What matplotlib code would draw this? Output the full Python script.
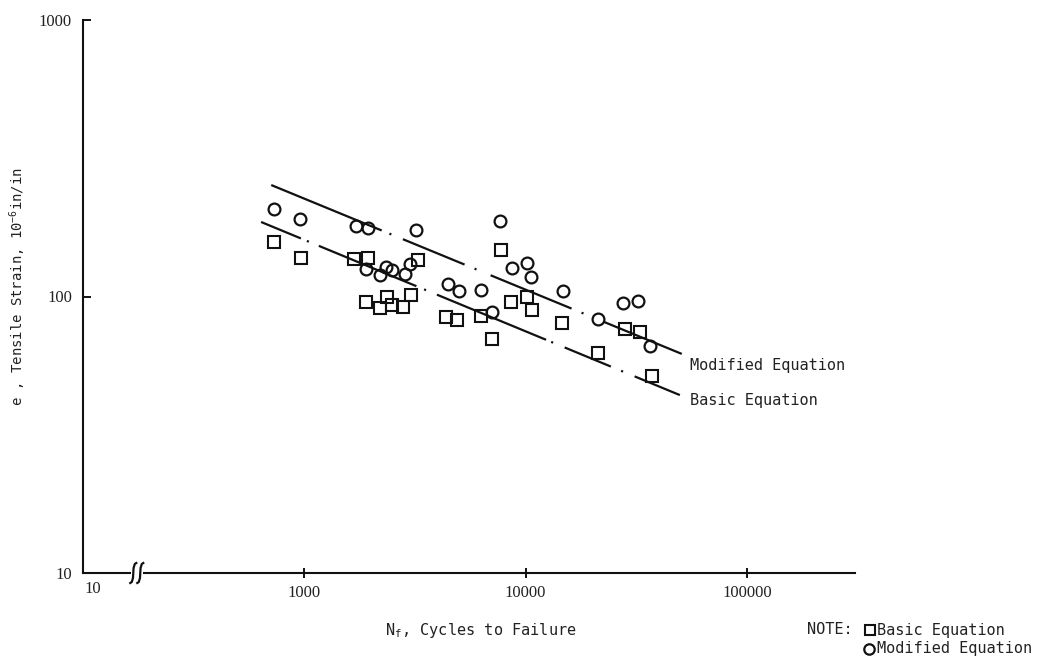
import numpy as np
import matplotlib
matplotlib.use("Agg")
import matplotlib.pyplot as plt
from matplotlib.lines import Line2D
from matplotlib.patches import Rectangle
from matplotlib.transforms import IdentityTransform
from matplotlib.ticker import NullLocator, FixedLocator, FixedFormatter

plt.rcParams['lines.scale_dashes'] = False

# ---- data ----
modified_x = [732, 959, 1720, 1950, 3210, 7630, 1910, 2190, 2330, 2500, 2860, 2990,
              4440, 4980, 6320, 7020, 8640, 10100, 10540, 14700, 21200, 27500, 32100, 36400]
modified_y = [207, 191, 180, 177, 174, 188, 126, 120, 128, 125, 121, 131,
              111, 105, 106, 88, 127, 132, 118, 105, 83, 95, 96, 66]

basic_x = [732, 970, 1680, 1950, 3250, 7710, 1910, 2210, 2370, 2500, 2800, 3050,
           4350, 4920, 6320, 7020, 8550, 10100, 10640, 14560, 21200, 28050, 32800, 37200]
basic_y = [157, 138, 137, 138, 135, 147, 95.5, 91, 100, 93, 92, 101,
           84, 82, 85, 70, 95.5, 99.6, 89.4, 80, 62.5, 76.3, 74.4, 51.6]

modified_line_x = [709, 50800]
modified_line_y = [253, 62]
basic_line_x = [638, 49800]
basic_line_y = [186, 44]

x_ticks = [1000, 10000, 100000]
x_tick_labels = ['1000', '10000', '100000']
y_ticks = [10, 100, 1000]
y_tick_labels = ['10', '100', '1000']

W, H = 1039, 659
fig = plt.figure(figsize=(W / 100, H / 100), dpi=100)
fig.patch.set_facecolor('white')
ax = fig.add_axes([83 / W, 1 - 573 / H, (855 - 83) / W, (573 - 20) / H])
ax.set_xscale('log')
ax.set_yscale('log')
ax.set_xlim(100, 10 ** (3 + 550 / 221))
ax.set_ylim(10, 1000)

for s in ['top', 'right']:
    ax.spines[s].set_visible(False)
for s in ['left', 'bottom']:
    ax.spines[s].set_linewidth(1.5)
    ax.spines[s].set_color('#111111')

serif = 'Liberation Serif'
mono = 'DejaVu Sans Mono'
txtc = '#222222'

ax.xaxis.set_major_locator(FixedLocator(x_ticks))
ax.xaxis.set_major_formatter(FixedFormatter(x_tick_labels))
ax.yaxis.set_major_locator(FixedLocator(y_ticks))
ax.yaxis.set_major_formatter(FixedFormatter(y_tick_labels))
ax.xaxis.set_minor_locator(NullLocator())
ax.yaxis.set_minor_locator(NullLocator())
ax.tick_params(axis='x', direction='inout', length=7, width=1.3, pad=5,
               labelsize=12, labelcolor=txtc)
ax.tick_params(axis='y', direction='in', length=6, width=1.3, pad=8,
               labelsize=12, labelcolor=txtc)
for lab in ax.get_xticklabels() + ax.get_yticklabels():
    lab.set_fontfamily(serif)

# "10" label at the (broken) left end of the x axis
ax.annotate('10', xy=(100, 10), xycoords='data', xytext=(1, -5.5),
            textcoords='offset points', ha='left', va='top',
            fontsize=12, fontfamily=serif, color=txtc, annotation_clip=False)

# data points
ax.plot(modified_x, modified_y, linestyle='none', marker='o', ms=8.5, mew=1.6,
        mfc='none', mec='#111111', clip_on=False)
ax.plot(basic_x, basic_y, linestyle='none', marker='s', ms=8, mew=1.5,
        mfc='none', mec='#111111', clip_on=False)

# equation lines (long dash - dot)
l1, = ax.plot(modified_line_x, modified_line_y, color='#111111', lw=1.6,
              solid_capstyle='butt', dash_capstyle='butt')
l1.set_linestyle((0, (86, 6, 1.5, 9, 48, 7.8, 1.5, 11, 63, 7.8, 1.5, 15.6, 70, 8, 1.5, 8)))
l2, = ax.plot(basic_line_x, basic_line_y, color='#111111', lw=1.6,
              solid_capstyle='butt', dash_capstyle='butt')
l2.set_linestyle((0, (31, 4.7, 1.5, 7.8, 76, 6, 1.5, 8.5, 85, 4, 1.5, 9, 36, 8, 1.5, 9, 40, 8, 1.5, 8)))

# line labels
fig.text(690 / W, 1 - 365 / H, 'Modified Equation', fontsize=11, fontfamily=mono,
         color=txtc, ha='left', va='center')
fig.text(690 / W, 1 - 401 / H, 'Basic Equation', fontsize=11, fontfamily=mono,
         color=txtc, ha='left', va='center')

# axis labels
fig.text(481 / W, 1 - 631 / H, r'N$_{\mathregular{f}}$, Cycles to Failure', fontsize=11,
         fontfamily=mono, color=txtc, ha='center', va='center')
fig.text(18 / W, 1 - 287 / H, r'e , Tensile Strain, 10$^{\mathregular{-6}}$in/in',
         fontsize=10, fontfamily=mono, color=txtc, ha='center', va='center',
         rotation=90)

# note legend
fig.text(807 / W, 1 - 630 / H, 'NOTE:', fontsize=11, fontfamily=mono, color=txtc,
         ha='left', va='center')
fig.text(877 / W, 1 - 630 / H, 'Basic Equation', fontsize=11, fontfamily=mono,
         color=txtc, ha='left', va='center')
fig.text(877 / W, 1 - 649 / H, 'Modified Equation', fontsize=11, fontfamily=mono,
         color=txtc, ha='left', va='center')
fig.add_artist(Line2D([870 / W], [1 - 630 / H], transform=fig.transFigure, marker='s',
                      ms=7.5, mew=1.5, mfc='none', mec='#111111', linestyle='none'))
fig.add_artist(Line2D([869 / W], [1 - 649 / H], transform=fig.transFigure, marker='o',
                      ms=7.5, mew=1.6, mfc='none', mec='#111111', linestyle='none'))

# axis break symbol on the x axis
cx, cy = ax.transData.transform((175, 10))
fig.add_artist(Rectangle((cx - 6, cy - 3), 12, 6, transform=IdentityTransform(),
                         facecolor='white', edgecolor='none', zorder=5))
for dx in (-3.5, 3.5):
    xs = np.array([3, 1.5, 0.3, 0, -0.3, -1.5, -3]) + dx
    ys = np.array([10, 9, 5, 0, -5, -9, -10])
    fig.add_artist(Line2D(cx + xs, cy + ys, transform=IdentityTransform(),
                          color='#111111', lw=1.6, zorder=6))

fig.savefig('out.png', dpi=100)
